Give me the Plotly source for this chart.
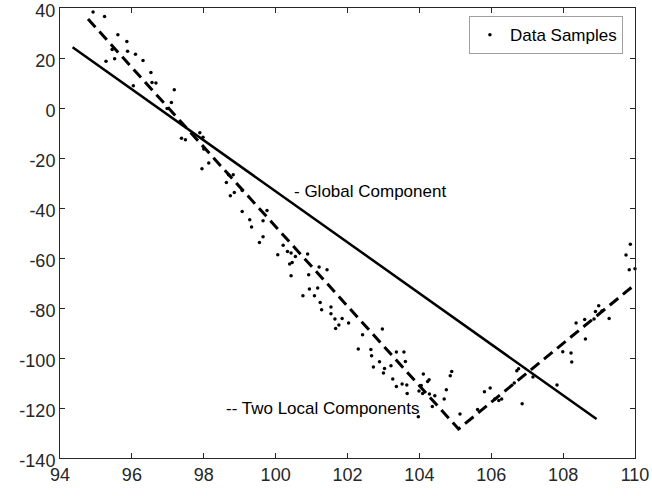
import plotly.graph_objects as go

# Data samples
sample_x = [94.94, 94.92, 95.24, 95.61, 95.86, 95.45, 95.88, 96.10, 95.52, 95.28,
            96.31, 96.53, 96.56, 96.67, 96.04, 97.18, 97.10, 96.98, 97.39, 97.38,
            97.49, 97.89, 97.98, 98.00, 98.14, 97.95, 98.69, 98.82, 98.63, 99.07,
            98.85, 98.74, 99.07, 99.76, 99.28, 99.65, 99.33, 99.65, 99.55, 100.21,
            100.06, 100.33, 100.43, 100.55, 100.89, 100.46, 100.39, 100.43, 101.21, 101.43,
            100.92, 101.17, 100.94, 101.08, 100.76, 101.24, 101.54, 101.28, 101.54, 101.65,
            101.85, 101.76, 101.67, 102.03, 102.97, 102.42, 102.30, 102.65, 102.67, 103.36,
            103.57, 102.89, 102.72, 103.03, 103.21, 103.61, 103.00, 103.26, 103.36, 103.52,
            103.65, 104.11, 104.23, 104.27, 104.05, 103.99, 104.09, 104.28, 104.43, 103.66,
            104.90, 104.86, 104.75, 104.69, 104.36, 103.97, 105.13, 105.62, 105.81, 105.97,
            106.10, 106.21, 106.29, 106.86, 106.64, 106.71, 106.76, 107.16, 107.83, 107.99,
            108.22, 108.24, 108.36, 108.60, 108.62, 108.86, 108.90, 108.99, 109.08, 109.28,
            109.75, 109.87, 109.84, 110.00]
sample_y = [40.4, 38.4, 36.6, 29.3, 26.6, 23.4, 22.7, 21.5, 19.7, 18.7,
            19.0, 14.2, 10.2, 10.0, 8.9, 7.3, 2.2, -0.2, -6.3, -12.1,
            -12.7, -9.9, -11.7, -16.4, -22.0, -24.3, -26.7, -26.7, -29.8, -33.0,
            -33.8, -35.1, -41.4, -41.0, -44.7, -45.1, -47.6, -51.5, -53.8, -54.9,
            -58.7, -57.4, -58.0, -59.4, -58.4, -61.8, -62.4, -67.1, -63.6, -64.7,
            -66.7, -72.0, -72.4, -75.1, -75.1, -77.8, -79.6, -80.7, -82.3, -84.4,
            -84.2, -86.8, -88.2, -86.0, -88.4, -90.7, -96.4, -96.6, -99.1, -97.6,
            -97.6, -101.5, -103.6, -104.2, -103.1, -101.4, -106.0, -108.4, -111.4, -110.4,
            -110.8, -106.4, -109.4, -108.7, -111.0, -113.2, -114.2, -114.4, -115.1, -114.2,
            -105.4, -107.1, -112.7, -116.4, -119.4, -123.5, -122.4, -120.6, -113.5, -112.0,
            -116.4, -117.0, -116.4, -118.3, -110.0, -105.1, -104.3, -107.6, -110.8, -97.5,
            -98.0, -101.6, -86.0, -84.6, -92.4, -84.4, -81.4, -79.1, -81.2, -84.2,
            -58.8, -54.5, -64.7, -64.3]

# Global component (single linear fit)
global_x = [94.35, 108.93]
global_y = [24.3, -124.4]

# Two local components (piecewise linear)
local_x = [94.78, 105.09, 109.95]
local_y = [35.6, -128.4, -71.2]

x_ticks = [94, 96, 98, 100, 102, 104, 106, 108, 110]
y_ticks = [40, 20, 0, -20, -40, -60, -80, -100, -120, -140]

FONT = "Liberation Sans, Arial, Helvetica, sans-serif"
AX = "#262626"

fig = go.Figure()
fig.add_trace(go.Scatter(x=global_x, y=global_y, mode="lines",
                         line=dict(color="black", width=2.5), showlegend=False))
fig.add_trace(go.Scatter(x=local_x, y=local_y, mode="lines",
                         line=dict(color="black", width=3, dash="11px,6px"), showlegend=False))
fig.add_trace(go.Scatter(x=sample_x, y=sample_y, mode="markers", name="Data Samples",
                         marker=dict(color="black", size=3.5), cliponaxis=False))

fig.add_annotation(x=100.46, y=-33.5, text="- Global Component", showarrow=False,
                   xanchor="left", yanchor="middle", font=dict(family=FONT, size=17, color="black"))
fig.add_annotation(x=98.55, y=-120, text="-- Two Local Components", showarrow=False,
                   xanchor="left", yanchor="middle", font=dict(family=FONT, size=17, color="black"))

axis_common = dict(showgrid=False, zeroline=False, showline=True, linecolor=AX, linewidth=1,
                   mirror="allticks", ticks="inside", ticklen=5, tickcolor=AX,
                   ticklabeloverflow="allow", automargin=False,
                   tickfont=dict(family=FONT, size=18, color=AX))
fig.update_xaxes(range=[94, 110], tickvals=x_ticks, ticktext=[str(v) for v in x_ticks], **axis_common)
fig.update_yaxes(range=[-140, 40], tickvals=y_ticks, ticktext=[str(v) for v in y_ticks],
                 ticklabelshift=3, **axis_common)

fig.update_layout(
    width=652, height=496,
    margin=dict(l=59.5, r=16.5, t=8.3, b=37.7),
    plot_bgcolor="white", paper_bgcolor="white",
    font=dict(family=FONT, color="black"),
    legend=dict(x=0.979, y=0.982, xanchor="right", yanchor="top",
                bgcolor="white", bordercolor="#a0a0a0", borderwidth=1,
                font=dict(family=FONT, size=17, color="black"), itemsizing="trace"),
)

fig.write_html("out.html", config={"displayModeBar": False},
               post_script="document.body.style.margin='0';document.body.style.overflow='hidden';")
